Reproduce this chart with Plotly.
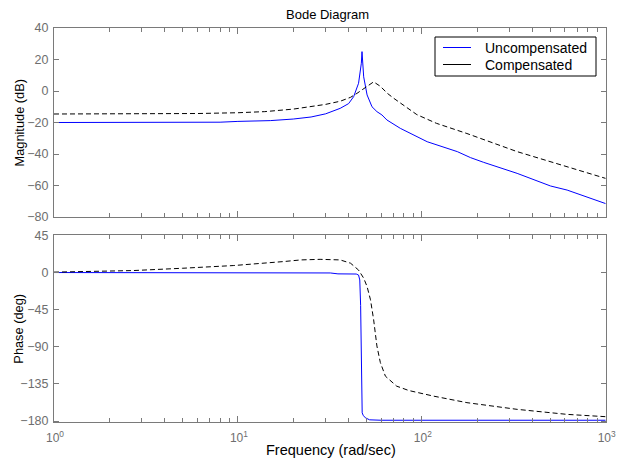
import plotly.graph_objects as go

# ---------------- data ----------------
unc_mag_w = [1, 2, 5, 8, 10, 15, 20, 25, 30, 36, 40, 42.6, 45.3, 46.9, 47.3, 48.3, 50.4, 53.6, 57, 60.7,
             64.6, 76.4, 107, 156, 184, 217, 330, 501, 617, 1000]
unc_mag_db = [-20, -20, -20, -19.8, -19.3, -18.8, -17.8, -16.5, -14.5, -11, -8, -3.6, 4.9, 17.6, 25, 9, -2.5,
              -10, -13.1, -15.2, -18.4, -23.7, -32.2, -38.5, -42.3, -45.3, -52.3, -60.3, -62.9, -71.5]

comp_mag_w = [1, 3, 6, 10, 14, 20, 25, 30, 36, 41, 44.4, 49.3, 54.7, 59.5, 65, 70.3, 74.8, 94, 120, 176,
              330, 617, 1000]
comp_mag_db = [-14.6, -14.6, -14.3, -13.8, -13.1, -11.5, -10, -8.5, -6.5, -4, -1.5, 2.3, 5.8, 3, -1.5,
               -4.6, -6.8, -15, -20.5, -27, -38.5, -48, -55.5]

unc_ph_w = [1, 10, 20, 31.8, 35, 44, 45.3, 46.0, 46.5, 46.8, 47.1, 47.4, 48.0, 49.3, 52, 60, 100, 1000]
unc_ph_deg = [0, 0, 0, -0.5, -1.6, -1.8, -3, -9, -40, -100, -150, -170, -173, -176, -178.5, -179, -179, -179]

comp_ph_w = [1, 2, 2.7, 5, 9.5, 17.7, 22, 28, 36, 41, 45.3, 48.3, 50.4, 52.6, 54.7, 57, 59.5, 63.4, 73,
             85, 116, 176, 330, 617, 1000]
comp_ph_deg = [0.5, 1.5, 2.4, 5.2, 8.5, 13.3, 15.3, 16, 15.3, 11.3, 3, -6.8, -17, -33, -57, -89, -109,
               -125.6, -137.7, -143, -149.8, -157.7, -165.8, -171.9, -174.7]

series_names = ["Uncompensated", "Compensated"]

x_tick_vals = [1, 10, 100, 1000]
x_tick_text = ["10<sup>0</sup>", "10<sup>1</sup>", "10<sup>2</sup>", "10<sup>3</sup>"]
x_minor_vals = [m * d for d in (1, 10, 100) for m in range(2, 10)]
mag_ticks = [-80, -60, -40, -20, 0, 20, 40]
phase_ticks = [-180, -135, -90, -45, 0, 45]

# ---------------- layout helpers ----------------
# The page body has an 8px default margin, so the figure is drawn 8px in;
# positions below are given in window pixels and converted.
OFF = 8
WIN_W, WIN_H = 624, 460
W, H = WIN_W - OFF, WIN_H - OFF
L, R = 54, 605.7
TOP1, BOT1 = 28, 217
TOP2, BOT2 = 235, 422.3

def fx(px):
    return (px - OFF) / W

def fy(py):
    return (WIN_H - py) / H

AX_COLOR = "#7a7a7a"
FAMILY = "Liberation Sans, Arial, sans-serif"
TICK_FONT = dict(family=FAMILY, size=12.5, color="#6e6e6e")

BLUE = "#0000ff"
series_colors = [BLUE, "black"]

fig = go.Figure()

fig.add_trace(go.Scatter(x=unc_mag_w, y=unc_mag_db, mode="lines", line=dict(color=BLUE, width=1),
                         name=series_names[0], xaxis="x", yaxis="y", showlegend=False))
fig.add_trace(go.Scatter(x=comp_mag_w, y=comp_mag_db, mode="lines",
                         line=dict(color="black", width=1, dash="5px,3px"),
                         name=series_names[1], xaxis="x", yaxis="y", showlegend=False))
fig.add_trace(go.Scatter(x=unc_ph_w, y=unc_ph_deg, mode="lines", line=dict(color=BLUE, width=1),
                         name=series_names[0], xaxis="x2", yaxis="y2", showlegend=False))
fig.add_trace(go.Scatter(x=comp_ph_w, y=comp_ph_deg, mode="lines",
                         line=dict(color="black", width=1, dash="5px,3px"),
                         name=series_names[1], xaxis="x2", yaxis="y2", showlegend=False))

common_x = dict(type="log", range=[0, 3], domain=[fx(L), fx(R)], showgrid=False, zeroline=False,
                automargin=False,
                showline=True, linecolor=AX_COLOR, linewidth=1, mirror="ticks",
                ticks="inside", ticklen=6, tickcolor=AX_COLOR, tickwidth=1,
                tickmode="array", tickvals=x_tick_vals,
                minor=dict(tickmode="array", tickvals=x_minor_vals, ticks="inside", ticklen=4,
                           tickcolor=AX_COLOR, tickwidth=1, showgrid=False))

common_y = dict(showgrid=False, zeroline=False, showline=True, linecolor=AX_COLOR, linewidth=1,
                automargin=False,
                mirror="ticks", ticks="inside", ticklen=5, tickcolor=AX_COLOR, tickwidth=1,
                tickmode="array", tickfont=TICK_FONT, ticklabelstandoff=2)

# legend box (MATLAB style: both samples drawn as solid lines)
LEG_L, LEG_R, LEG_T, LEG_B = 435, 596, 37, 76
leg_rows_y = [47.5, 64.5]
shapes = [dict(type="rect", xref="paper", yref="paper", x0=fx(LEG_L), x1=fx(LEG_R), y0=fy(LEG_B),
               y1=fy(LEG_T), line=dict(color="black", width=1), fillcolor="white", layer="above")]
annotations = []
for name, col, ry in zip(series_names, series_colors, leg_rows_y):
    shapes.append(dict(type="line", xref="paper", yref="paper", x0=fx(443), x1=fx(471),
                       y0=fy(ry), y1=fy(ry), line=dict(color=col, width=1), layer="above"))
    annotations.append(dict(text=name, x=fx(483), y=fy(ry), xref="paper", yref="paper",
                            showarrow=False, xanchor="left", yanchor="middle",
                            font=dict(family=FAMILY, size=14, color="black")))

annotations += [
    dict(text="Bode Diagram", x=fx(328), y=fy(15), xref="paper", yref="paper",
         showarrow=False, font=dict(family=FAMILY, size=13, color="black"),
         xanchor="center", yanchor="middle"),
    dict(text="Frequency (rad/sec)", x=fx(331), y=fy(450), xref="paper", yref="paper",
         showarrow=False, font=dict(family=FAMILY, size=14.5, color="black"),
         xanchor="center", yanchor="middle"),
    dict(text="Magnitude (dB)", x=fx(19), y=fy((TOP1 + BOT1) / 2), xref="paper", yref="paper",
         showarrow=False, font=dict(family=FAMILY, size=12.8, color="black"), textangle=-90,
         xanchor="center", yanchor="middle"),
    dict(text="Phase (deg)", x=fx(19), y=fy((TOP2 + BOT2) / 2), xref="paper", yref="paper",
         showarrow=False, font=dict(family=FAMILY, size=12.8, color="black"), textangle=-90,
         xanchor="center", yanchor="middle"),
]

fig.update_layout(
    width=W, height=H, autosize=False,
    margin=dict(l=0, r=0, t=0, b=0, autoexpand=False),
    paper_bgcolor="white", plot_bgcolor="white",
    showlegend=False,
    xaxis=dict(common_x, anchor="y", showticklabels=False),
    yaxis=dict(common_y, anchor="x", domain=[fy(BOT1), fy(TOP1)], range=[-80, 40], tickvals=mag_ticks),
    xaxis2=dict(common_x, anchor="y2", matches="x", showticklabels=True, ticktext=x_tick_text,
                tickfont=dict(TICK_FONT, size=12), ticklabelstandoff=4, ticklabelshift=1),
    yaxis2=dict(common_y, anchor="x2", domain=[fy(BOT2), fy(TOP2)], range=[-181.5, 45.5],
                tickvals=phase_ticks),
    shapes=shapes,
    annotations=annotations,
)

fig.write_html("out.html")
